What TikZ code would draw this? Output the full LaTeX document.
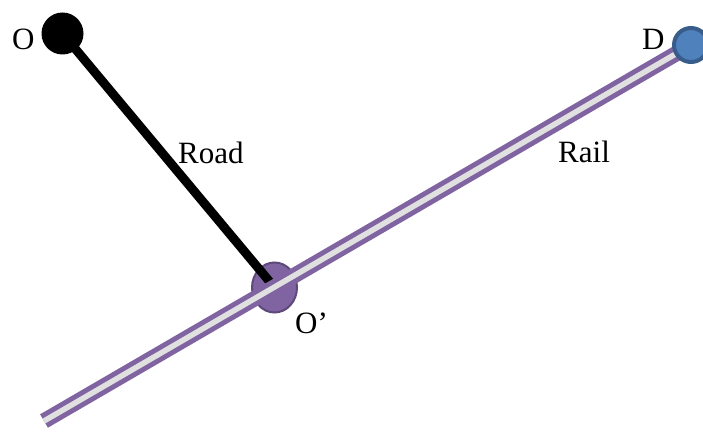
\documentclass[tikz,border=0pt]{standalone}
\usepackage{fontspec}
\setmainfont{Liberation Serif}
\usetikzlibrary{shapes.geometric}
\definecolor{railpurple}{HTML}{8064A2}
\definecolor{railgap}{HTML}{E0E0E0}
\definecolor{opfill}{HTML}{8064A2}
\definecolor{opdraw}{HTML}{5F497A}
\definecolor{dfill}{HTML}{4F81BD}
\definecolor{ddraw}{HTML}{385D8A}
\tikzset{
  lbl/.style={anchor=base west, inner sep=0pt, font=\fontsize{31}{37}\selectfont},
  road/.style={line width=9pt, black},
  rail/.style={line width=5pt, draw=railpurple, double=railgap, double distance=5.5pt},
}
\begin{document}
\begin{tikzpicture}[x=1pt,y=-1pt]
\useasboundingbox (0,0) rectangle (703,433);
\node[ellipse, minimum width=45pt, minimum height=50pt, inner sep=0pt, fill=opfill, draw=opdraw, line width=2pt] (Op) at (274.5,287.5) {};
\node[circle, minimum size=42pt, inner sep=0pt] (O) at (62.5,33.5) {};
\node[circle, minimum size=38pt, inner sep=0pt] (D) at (691,45) {};
\coordinate (railend) at (44,421);
\draw[road] (O.center) -- (Op.center);
\draw[rail] (railend) -- (D.center);
\fill[black] (O.center) circle (21pt);
\filldraw[fill=dfill, draw=ddraw, line width=4pt] (D.center) circle (17pt);
\node[lbl] (lO) at (12,50) {O};
\node[lbl] (lD) at (642,50) {D};
\node[lbl] (lRoad) at (178,163) {Road};
\node[lbl] (lRail) at (558,162) {Rail};
\node[lbl] (lOp) at (295,333) {O’};
\end{tikzpicture}
\end{document}
